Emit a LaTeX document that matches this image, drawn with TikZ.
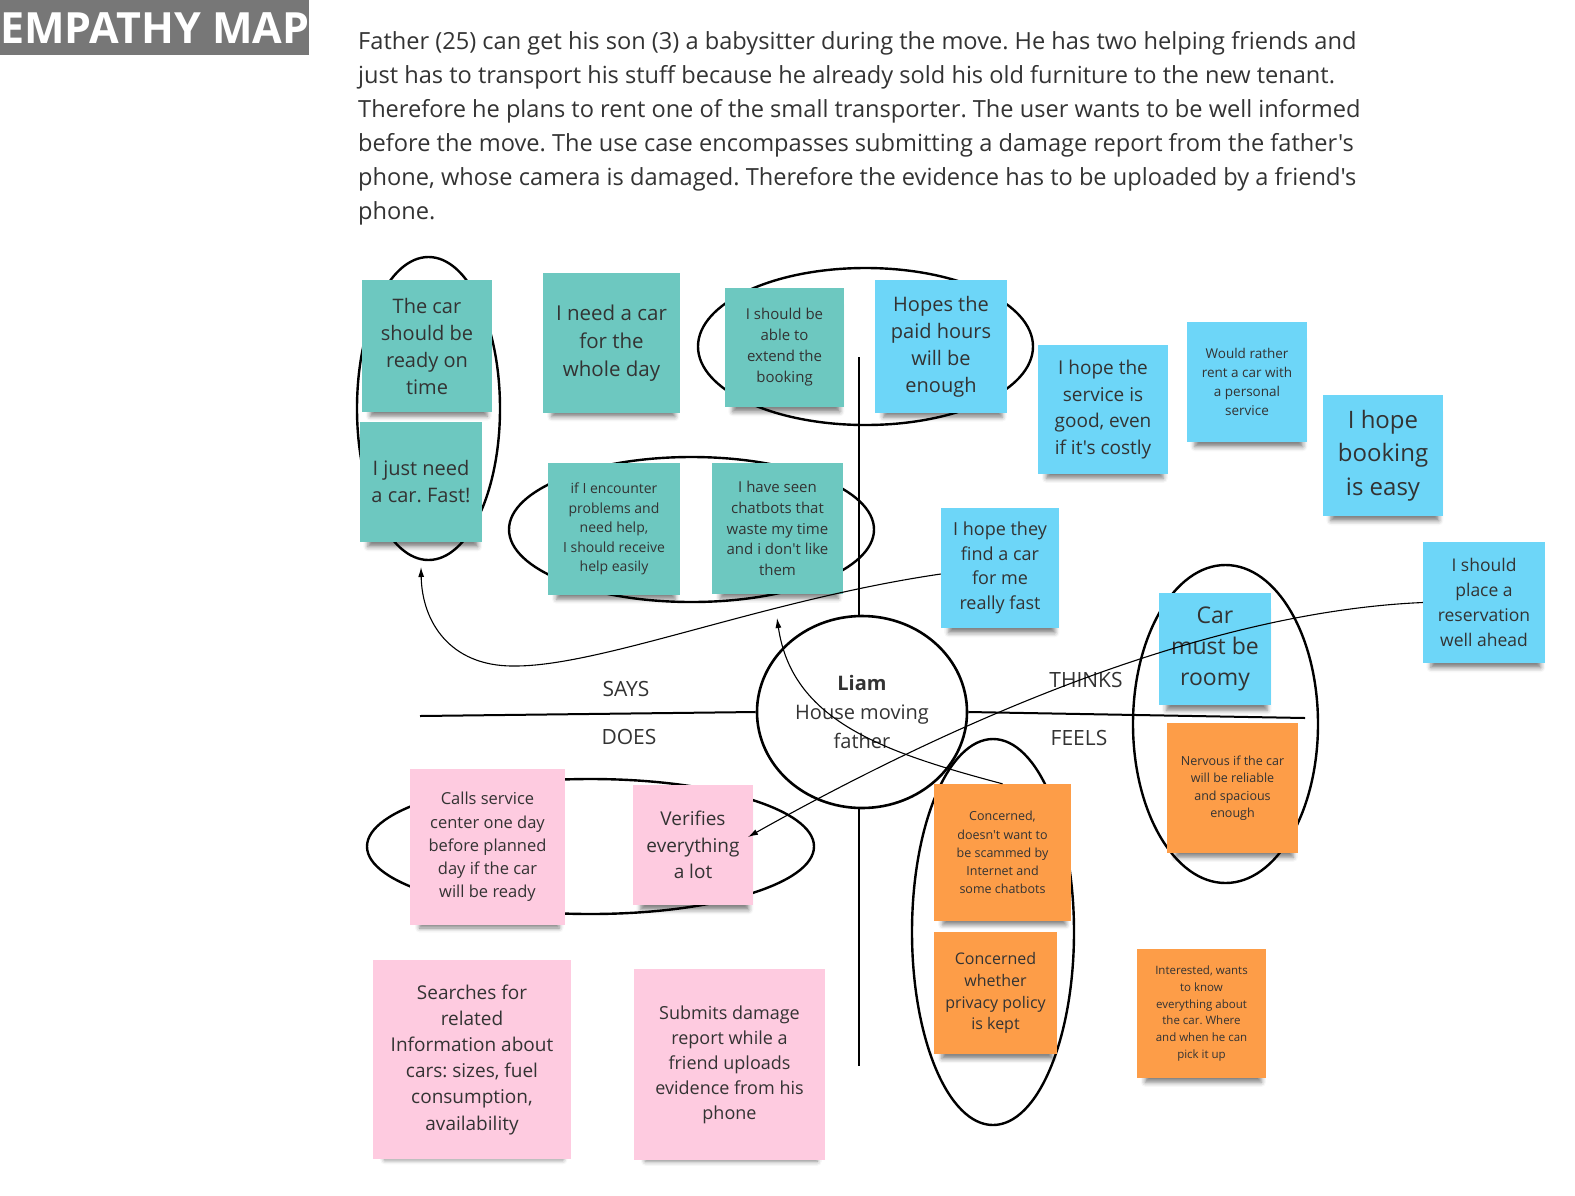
\documentclass[tikz,border=0pt]{standalone}
\usepackage{fontspec}
\setmainfont{Open Sans}[Ligatures=TeXOff]
\usetikzlibrary{arrows.meta,shapes.geometric,shadows.blur}

\definecolor{ink}{HTML}{333333}
\definecolor{titlegrey}{HTML}{777777}
\definecolor{tealnote}{HTML}{6DC8C0}
\definecolor{bluenote}{HTML}{6DD6F8}
\definecolor{orangenote}{HTML}{FD9D48}
\definecolor{pinknote}{HTML}{FECBE0}

\newcommand\fsz[2]{\fontsize{#1pt}{#2pt}\selectfont}
\frenchspacing

\begin{document}
\begin{tikzpicture}[
  x = 1pt, y = -1pt,
  note/.style = {
    shape = rectangle,
    inner sep = 2pt,
    align = center,
    text = ink,
    blur shadow = {shadow xshift = 2pt, shadow yshift = -12pt,
      shadow scale = 0.9, shadow opacity = 50, shadow blur radius = 5pt}
  },
  sz/.style 2 args = {minimum width = #1pt, minimum height = #2pt},
  says/.style = {note, fill = tealnote},
  thinks/.style = {note, fill = bluenote},
  feels/.style = {note, fill = orangenote},
  does/.style = {note, fill = pinknote},
  ring/.style = {draw, shape = ellipse, line width = 2.4pt, inner sep = 0pt},
  axis/.style = {draw, line width = 2pt},
  link/.style = {draw, line width = 1.1pt, -{Latex[length = 10pt, width = 6pt]}},
  quarter/.style = {font = \fsz{21}{25}, text = ink}
]
  \useasboundingbox (0,0) rectangle (1575,1195);

  \node[fill = titlegrey, text = white, font = \fsz{43}{50}\bfseries,
    inner sep = 0pt, minimum width = 308pt, minimum height = 55pt,
    anchor = north west] (title) at (0,0) {EMPATHY MAP};

  \node[anchor = north west, align = left, inner sep = 0pt,
    font = \fsz{23.6}{34}, text = ink] (story) at (358,31)
    {Father (25) can get his son (3) a babysitter during the move. He has two helping friends and\\
     just has to transport his stuff because he already sold his old furniture to the new tenant.\\
     Therefore he plans to rent one of the small transporter. The user wants to be well informed\\
     before the move. The use case encompasses submitting a damage report from the father's\\
     phone, whose camera is damaged. Therefore the evidence has to be uploaded by a friend's\\
     phone.};

  \node[ring, minimum width = 143pt, minimum height = 303pt] (ring1) at (428.5,408.5) {};
  \node[ring, minimum width = 335pt, minimum height = 157pt] (ring2) at (865.5,346.5) {};
  \node[ring, minimum width = 365pt, minimum height = 145pt] (ring3) at (691.5,529.5) {};
  \node[ring, minimum width = 447pt, minimum height = 135pt] (ring4) at (590.5,846.5) {};
  \node[ring, minimum width = 162pt, minimum height = 386pt] (ring5) at (993,932) {};
  \node[ring, minimum width = 185pt, minimum height = 318pt] (ring6) at (1225.5,724) {};

  \node[ring, line width = 2.6pt, minimum width = 210pt, minimum height = 192pt,
    align = center, font = \fsz{20}{29}, text = ink] (liam) at (862,712)
    {\textbf{Liam}\\House moving\\father};

  \coordinate (saysend) at (420,716);
  \coordinate (feelsend) at (1305,718);
  \coordinate (topend) at (859,357);
  \coordinate (bottomend) at (859,1066);

  \draw[axis] (saysend) -- (liam.west);
  \draw[axis] (liam.east) -- (feelsend);
  \draw[axis] (topend) -- (topend |- liam.north);
  \draw[axis] (bottomend |- liam.south) -- (bottomend);

  \node[quarter] (saystext) at (626,689) {SAYS};
  \node[quarter] (doestext) at (629,737) {DOES};
  \node[quarter] (thinkstext) at (1086,680) {THINKS};
  \node[quarter] (feelstext) at (1079,738) {FEELS};

  \node[says, sz = {130}{132}, font = \fsz{20}{27}] (s1) at (427,346)
    {The car\\should be\\ready on\\time};
  \node[says, sz = {122}{120}, font = \fsz{20}{27}] (s2) at (421,482)
    {I just need\\a car. Fast!};
  \node[says, sz = {137}{140}, font = \fsz{20.5}{28}] (s3) at (611.5,343)
    {I need a car\\for the\\whole day};
  \node[says, sz = {119}{119}, font = \fsz{15}{21}] (s4) at (784.5,347.5)
    {I should be\\able to\\extend the\\booking};
  \node[says, sz = {132}{132}, font = \fsz{14}{19.5}] (s5) at (614,529)
    {if I encounter\\problems and\\need help,\\I should receive\\help easily};
  \node[says, sz = {131}{131}, font = \fsz{15}{20.8}] (s6) at (777.5,528.5)
    {I have seen\\chatbots that\\waste my time\\and i don't like\\them};

  \node[thinks, sz = {132}{133}, font = \fsz{20}{27}] (b1) at (941,346.5)
    {Hopes the\\paid hours\\will be\\enough};
  \node[thinks, sz = {130}{129}, font = \fsz{19}{26.5}] (b2) at (1103,409.5)
    {I hope the\\service is\\good, even\\if it's costly};
  \node[thinks, sz = {120}{120}, font = \fsz{13.5}{19}] (b3) at (1247,382)
    {Would rather\\rent a car with\\a personal\\service};
  \node[thinks, sz = {120}{121}, font = \fsz{24}{33.5}] (b4) at (1383,455.5)
    {I hope\\booking\\is easy};
  \node[thinks, sz = {118}{120}, font = \fsz{18}{24.5}] (b5) at (1000,568)
    {I hope they\\find a car\\for me\\really fast};
  \node[thinks, sz = {112}{112}, font = \fsz{23}{31}] (b6) at (1215,649)
    {Car\\must be\\roomy};
  \node[thinks, sz = {122}{121}, font = \fsz{17.5}{25}] (b7) at (1484,602.5)
    {I should\\place a\\reservation\\well ahead};

  \node[feels, sz = {131}{130}, font = \fsz{12.5}{17.5}] (o1) at (1232.5,788)
    {Nervous if the car\\will be reliable\\and spacious\\enough};
  \node[feels, sz = {137}{137}, font = \fsz{12.5}{18.2}] (o2) at (1002.5,852.5)
    {Concerned,\\doesn't want to\\be scammed by\\Internet and\\some chatbots};
  \node[feels, sz = {123}{122}, font = \fsz{16}{21.8}] (o3) at (995.5,993)
    {Concerned\\whether\\privacy policy\\is kept};
  \node[feels, sz = {129}{129}, font = \fsz{11.5}{16.8}] (o4) at (1201.5,1013.5)
    {Interested, wants\\to know\\everything about\\the car. Where\\and when he can\\pick it up};

  \node[does, sz = {155}{156}, font = \fsz{16.5}{23.2}] (p1) at (487.5,847)
    {Calls service\\center one day\\before planned\\day if the car\\will be ready};
  \node[does, sz = {120}{120}, font = \fsz{19}{26.5}] (p2) at (693,845)
    {Verifies\\everything\\a lot};
  \node[does, sz = {198}{199}, font = \fsz{19}{26.2}] (p3) at (472,1059.5)
    {Searches for\\related\\Information about\\cars: sizes, fuel\\consumption,\\availability};
  \node[does, sz = {191}{191}, font = \fsz{18}{25}] (p4) at (729.5,1064.5)
    {Submits damage\\report while a\\friend uploads\\evidence from his\\phone};

  \coordinate (fasttip) at (421,567);
  \coordinate (chattip) at (777,618);
  \coordinate (verifytip) at (748,837);

  \draw[link] ([yshift = -6pt]b5.west) .. controls (763,600) and (600,667) .. (513,666)
    .. controls (450,666) and (422,622) .. (fasttip);
  \draw[link] (o2.north) .. controls (883,752) and (792,721) .. (chattip);
  \draw[link] (b7.west) .. controls (1203,612) and (953,722) .. (verifytip);
\end{tikzpicture}
\end{document}
